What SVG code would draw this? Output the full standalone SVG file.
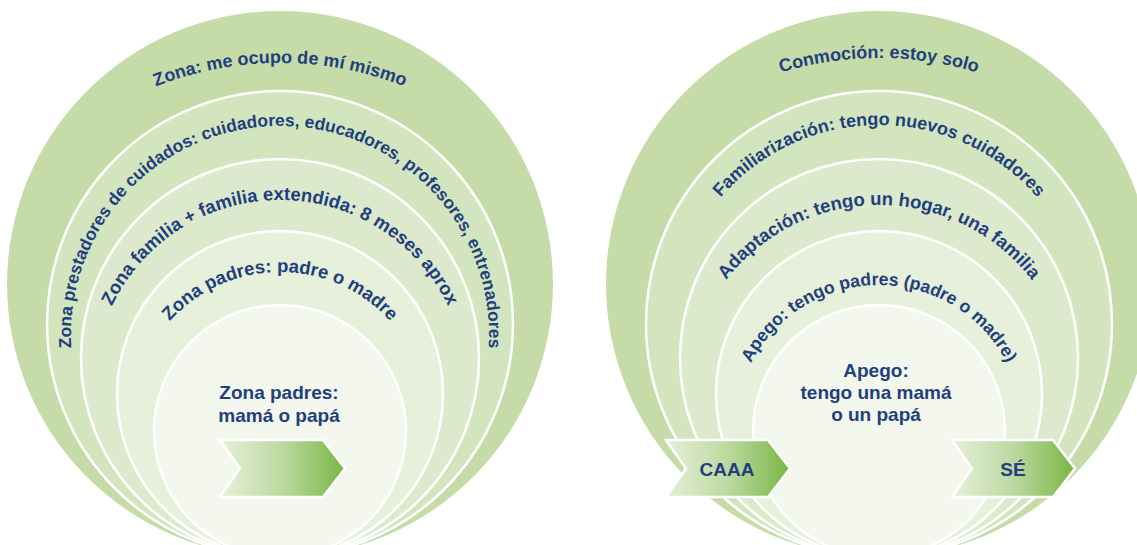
<svg xmlns="http://www.w3.org/2000/svg" width="1137" height="545" viewBox="0 0 1137 545">
  <style>
    .ring { stroke: #ffffff; stroke-width: 2.5; }
    .r1 { fill: #c5dca8; stroke: none; }
    .r2 { fill: #d3e5bf; }
    .r3 { fill: #dce9cc; }
    .r4 { fill: #e6f0da; }
    .r5 { fill: #f3f7ed; }
    .lbl { font-family: "Liberation Sans", Arial, Helvetica, sans-serif; font-weight: bold; fill: #1f3f7e; }
    .arc { font-size: 18px; }
    .mid { font-size: 19px; text-anchor: middle; }
    .chev { fill: url(#chevFill); stroke: #ffffff; stroke-width: 2.5; stroke-linejoin: miter; }
  </style>
  <defs>
    <linearGradient id="chevFill" x1="0" y1="0" x2="1" y2="0">
      <stop offset="0" stop-color="#e6f0d9"/>
      <stop offset="0.5" stop-color="#bcd9a0"/>
      <stop offset="1" stop-color="#78b644"/>
    </linearGradient>
    <!-- baseline arcs: full circles starting at the bottom, running clockwise, so 50% sits on top -->
    <path id="arcL1" d="M280,743 A340,340 0 1 1 280,63 A340,340 0 1 1 280,743"/>
    <path id="arcL2" d="M280,544 A209,209 0 1 1 280,126 A209,209 0 1 1 280,544"/>
    <path id="arcL3" d="M280,572 A186,186 0 1 1 280,200 A186,186 0 1 1 280,572"/>
    <path id="arcL4" d="M280,568 A148,148 0 1 1 280,272 A148,148 0 1 1 280,568"/>
    <path id="arcR1" d="M879,738 A340,340 0 1 1 879,58 A340,340 0 1 1 879,738"/>
    <path id="arcR2" d="M879,543 A209,209 0 1 1 879,125 A209,209 0 1 1 879,543"/>
    <path id="arcR3" d="M879,591 A193,193 0 1 1 879,205 A193,193 0 1 1 879,591"/>
    <path id="arcR4" d="M879,573 A144,144 0 1 1 879,285 A144,144 0 1 1 879,573"/>
  </defs>

  <rect width="1137" height="545" fill="#ffffff"/>

  <!-- left diagram: zones around the child -->
  <g id="left-diagram">
    <g id="zone-self">
      <circle class="ring r1" cx="280" cy="284" r="273"/>
      <text class="lbl arc"><textPath href="#arcL1" startOffset="50%" text-anchor="middle">Zona: me ocupo de mí mismo</textPath></text>
    </g>
    <g id="zone-caregivers">
      <circle class="ring r2" cx="280" cy="324" r="233"/>
      <text class="lbl arc" style="font-size:17.4px"><textPath href="#arcL2" startOffset="50%" text-anchor="middle">Zona prestadores de cuidados: cuidadores, educadores, profesores, entrenadores</textPath></text>
    </g>
    <g id="zone-family">
      <circle class="ring r3" cx="280" cy="358" r="199"/>
      <text class="lbl arc" style="font-size:18.5px"><textPath href="#arcL3" startOffset="50%" text-anchor="middle">Zona familia + familia extendida: 8 meses aprox</textPath></text>
    </g>
    <g id="zone-parents">
      <circle class="ring r4" cx="280" cy="394" r="163"/>
      <text class="lbl arc" style="font-size:18.5px"><textPath href="#arcL4" startOffset="50%" text-anchor="middle">Zona padres: padre o madre</textPath></text>
    </g>
    <g id="zone-core">
      <circle class="ring r5" cx="280" cy="431" r="126"/>
      <text class="lbl mid" x="279" y="399">Zona padres:</text>
      <text class="lbl mid" x="279" y="422">mamá o papá</text>
    </g>
  </g>

  <!-- right diagram: stages of attachment -->
  <g id="right-diagram">
    <g id="stage-shock">
      <circle class="ring r1" cx="879" cy="284" r="273"/>
      <text class="lbl arc"><textPath href="#arcR1" startOffset="50%" text-anchor="middle">Conmoción: estoy solo</textPath></text>
    </g>
    <g id="stage-familiarization">
      <circle class="ring r2" cx="879" cy="324" r="233"/>
      <text class="lbl arc"><textPath href="#arcR2" startOffset="50%" text-anchor="middle">Familiarización: tengo nuevos cuidadores</textPath></text>
    </g>
    <g id="stage-adaptation">
      <circle class="ring r3" cx="879" cy="358" r="199"/>
      <text class="lbl arc" style="font-size:18.5px"><textPath href="#arcR3" startOffset="50%" text-anchor="middle">Adaptación: tengo un hogar, una familia</textPath></text>
    </g>
    <g id="stage-attachment">
      <circle class="ring r4" cx="879" cy="394" r="163"/>
      <text class="lbl arc" style="font-size:17.7px"><textPath href="#arcR4" startOffset="50%" text-anchor="middle">Apego: tengo padres (padre o madre)</textPath></text>
    </g>
    <g id="stage-core">
      <circle class="ring r5" cx="879" cy="431" r="126"/>
      <text class="lbl mid" x="876" y="377">Apego:</text>
      <text class="lbl mid" x="876" y="399">tengo una mamá</text>
      <text class="lbl mid" x="876" y="421">o un papá</text>
    </g>
  </g>

  <!-- chevron arrows -->
  <g id="arrows">
    <g id="arrow-left">
      <polygon class="chev" points="220,440 323,440 345,468.5 323,497 220,497 240,468.5"/>
    </g>
    <g id="arrow-caaa">
      <polygon class="chev" points="666,440 768,440 790,468.5 768,497 666,497 686,468.5"/>
      <text class="lbl mid" x="727" y="476">CAAA</text>
    </g>
    <g id="arrow-se">
      <polygon class="chev" points="952,440 1053,440 1075,468.5 1053,497 952,497 972,468.5"/>
      <text class="lbl mid" x="1013" y="476">SÉ</text>
    </g>
  </g>
</svg>
